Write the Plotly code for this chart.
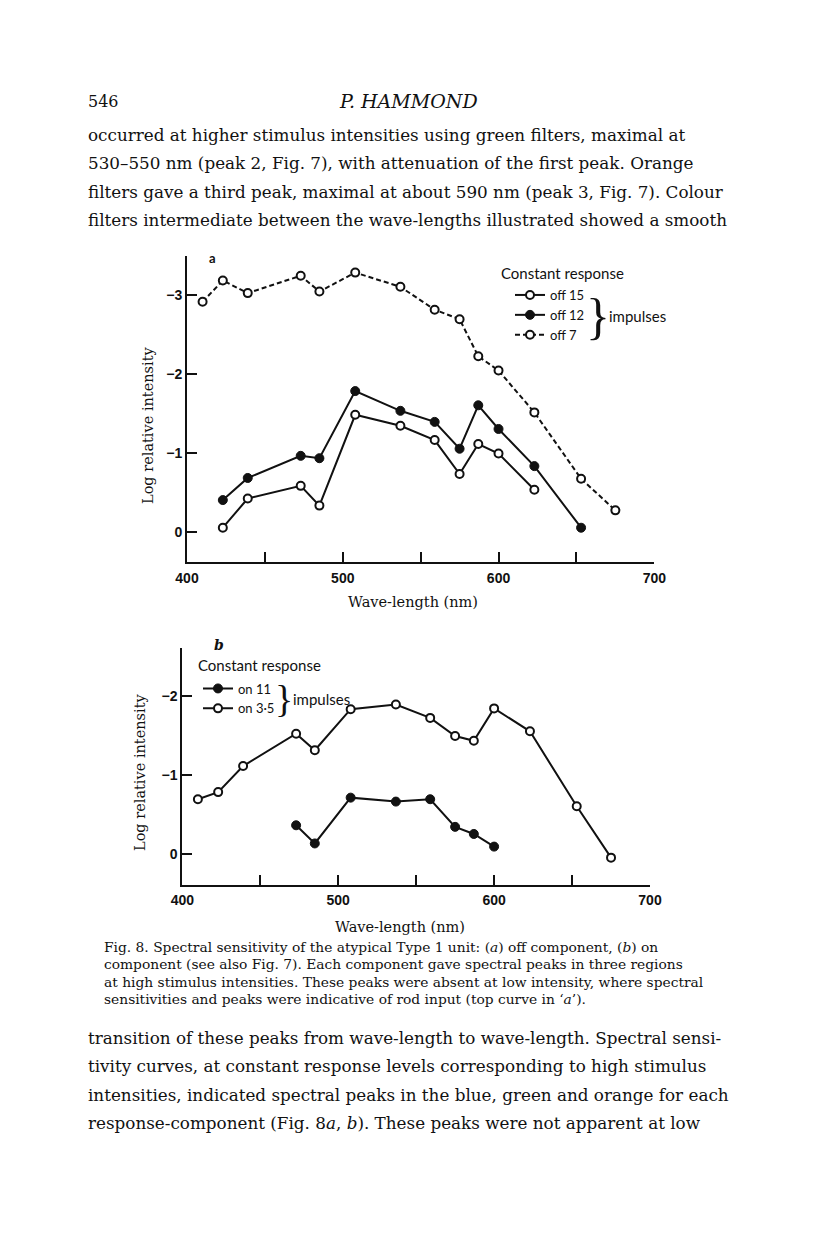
import plotly.graph_objects as go

W, H = 816, 1249
OFF = 8  # the page body adds an 8 px margin around the figure


def px(x):
    return (x - OFF) / W


def py(y):
    return 1 - (y - OFF) / H


# ---------------- data ----------------
# Fig. 8a  off component
wl_a_off15 = [423, 439, 473, 485, 508, 537, 559, 575, 587, 600, 623]
val_a_off15 = [-0.05, -0.42, -0.58, -0.33, -1.48, -1.34, -1.16, -0.73, -1.11, -0.99, -0.53]

wl_a_off12 = [423, 439, 473, 485, 508, 537, 559, 575, 587, 600, 623, 653]
val_a_off12 = [-0.40, -0.68, -0.96, -0.93, -1.78, -1.53, -1.39, -1.05, -1.60, -1.30, -0.83, -0.05]

wl_a_off7 = [410, 423, 439, 473, 485, 508, 537, 559, 575, 587, 600, 623, 653, 675]
val_a_off7 = [-2.91, -3.18, -3.02, -3.24, -3.04, -3.28, -3.10, -2.81, -2.69, -2.22, -2.04, -1.51, -0.67, -0.27]

# Fig. 8b  on component
wl_b_on11 = [473, 485, 508, 537, 559, 575, 587, 600]
val_b_on11 = [-0.36, -0.13, -0.71, -0.66, -0.69, -0.34, -0.25, -0.09]

wl_b_on35 = [410, 423, 439, 473, 485, 508, 537, 559, 575, 587, 600, 623, 653, 675]
val_b_on35 = [-0.69, -0.78, -1.11, -1.52, -1.31, -1.83, -1.89, -1.72, -1.49, -1.43, -1.84, -1.55, -0.60, 0.05]

x_tickvals = [400, 450, 500, 550, 600, 650, 700]
x_ticktext = ["400", "", "500", "", "600", "", "700"]
ya_tickvals = [0, -1, -2, -3]
ya_ticktext = ["0", "\u22121", "\u22122", "\u22123"]
yb_tickvals = [0, -1, -2]
yb_ticktext = ["0", "\u22121", "\u22122"]

text_top = [
    "occurred at higher stimulus intensities using green filters, maximal at",
    "530\u2013550 nm (peak 2, Fig. 7), with attenuation of the first peak. Orange",
    "filters gave a third peak, maximal at about 590 nm (peak 3, Fig. 7). Colour",
    "filters intermediate between the wave-lengths illustrated showed a smooth",
]
caption = [
    "Fig. 8. Spectral sensitivity of the atypical Type 1 unit: (<i>a</i>) off component, (<i>b</i>) on",
    "component (see also Fig. 7). Each component gave spectral peaks in three regions",
    "at high stimulus intensities. These peaks were absent at low intensity, where spectral",
    "sensitivities and peaks were indicative of rod input (top curve in \u2018<i>a</i>\u2019).",
]
text_bottom = [
    "transition of these peaks from wave-length to wave-length. Spectral sensi-",
    "tivity curves, at constant response levels corresponding to high stimulus",
    "intensities, indicated spectral peaks in the blue, green and orange for each",
    "response-component (Fig. 8<i>a</i>, <i>b</i>). These peaks were not apparent at low",
]

# ---------------- styles ----------------
SERIF = "DejaVu Serif"
SANS = "Lato"
BLACK = "#111111"
open_marker = dict(symbol="circle", size=8, color="white", line=dict(color=BLACK, width=2))
filled_marker = dict(symbol="circle", size=9, color=BLACK, line=dict(color=BLACK, width=1))

fig = go.Figure()

fig.add_trace(go.Scatter(x=wl_a_off15, y=val_a_off15, mode="lines+markers", name="off 15",
                         line=dict(color=BLACK, width=2), marker=open_marker,
                         xaxis="x", yaxis="y", legend="legend"))
fig.add_trace(go.Scatter(x=wl_a_off12, y=val_a_off12, mode="lines+markers", name="off 12",
                         line=dict(color=BLACK, width=2), marker=filled_marker,
                         xaxis="x", yaxis="y", legend="legend"))
fig.add_trace(go.Scatter(x=wl_a_off7, y=val_a_off7, mode="lines+markers", name="off 7",
                         line=dict(color=BLACK, width=2, dash="5px,3px"), marker=open_marker,
                         xaxis="x", yaxis="y", legend="legend"))

fig.add_trace(go.Scatter(x=wl_b_on11, y=val_b_on11, mode="lines+markers", name="on 11",
                         line=dict(color=BLACK, width=2), marker=filled_marker,
                         xaxis="x2", yaxis="y2", legend="legend2"))
fig.add_trace(go.Scatter(x=wl_b_on35, y=val_b_on35, mode="lines+markers", name="on 3\u00b75",
                         line=dict(color=BLACK, width=2), marker=open_marker,
                         xaxis="x2", yaxis="y2", legend="legend2"))

axis_common = dict(showline=True, linewidth=2, linecolor=BLACK, showgrid=False, zeroline=False,
                   ticks="inside", ticklen=10, tickwidth=2, tickcolor=BLACK, automargin=False,
                   tickfont=dict(family="Liberation Sans", size=14, color=BLACK, weight="bold"))

fig.update_layout(
    width=W, height=H,
    margin=dict(l=0, r=0, t=0, b=0, pad=0, autoexpand=False),
    paper_bgcolor="white", plot_bgcolor="white",
    xaxis=dict(domain=[px(187), px(654.3)], range=[400, 700], anchor="y",
               tickvals=x_tickvals, ticktext=x_ticktext, ticklabelstandoff=2, **axis_common),
    yaxis=dict(domain=[py(562), py(256)], range=[0.384, -3.49], anchor="x",
               tickvals=ya_tickvals, ticktext=ya_ticktext, **axis_common),
    xaxis2=dict(domain=[px(182.3), px(650)], range=[400, 700], anchor="y2",
                tickvals=x_tickvals, ticktext=x_ticktext, ticklabelstandoff=2, **axis_common),
    yaxis2=dict(domain=[py(884.5), py(648)], range=[0.39, -2.605], anchor="x2",
                tickvals=yb_tickvals, ticktext=yb_ticktext, **axis_common),
    legend=dict(x=px(510), y=py(280), xanchor="left", yanchor="top",
                bgcolor="rgba(0,0,0,0)", borderwidth=0, traceorder="normal",
                font=dict(family=SANS, size=13, color=BLACK)),
    legend2=dict(x=px(198), y=py(673.5), xanchor="left", yanchor="top",
                 bgcolor="rgba(0,0,0,0)", borderwidth=0, traceorder="normal",
                 font=dict(family=SANS, size=13, color=BLACK)),
)

ann = []


def add_text(text, x, y, size, family=SERIF, xanchor="left", angle=0, **font_kw):
    ann.append(dict(text=text, x=px(x), y=py(y), xref="paper", yref="paper",
                    xanchor=xanchor, yanchor="middle", showarrow=False, textangle=angle,
                    font=dict(family=family, size=size, color=BLACK, **font_kw)))


# page header
add_text("546", 86, 101, 16)
add_text("<i>P. HAMMOND</i>", 408, 101, 19, xanchor="center")

# body text
for i, line in enumerate(text_top):
    add_text(line, 86, 135 + i * 28.3, 16.8)

# chart a labels
add_text("a", 207, 258, 13, family=SANS, weight="bold")
add_text("Constant response", 499, 273, 15, family=SANS)
add_text("}", 598, 316, 50, family="Liberation Serif", xanchor="center")
add_text("impulses", 607, 316, 15, family=SANS)
add_text("Log relative intensity", 148, 425, 14.5, angle=-90, xanchor="center")
add_text("Wave-length (nm)", 413, 602, 14.5, xanchor="center")

# chart b labels
add_text("<i>b</i>", 212, 645, 14, weight="bold")
add_text("Constant response", 196, 665, 15, family=SANS)
add_text("}", 284, 699, 38, family="Liberation Serif", xanchor="center")
add_text("impulses", 291, 699, 15, family=SANS)
add_text("Log relative intensity", 140, 772, 14.5, angle=-90, xanchor="center")
add_text("Wave-length (nm)", 400, 927, 14.5, xanchor="center")

# caption
for i, line in enumerate(caption):
    add_text(line, 102, 947 + i * 17.4, 13.8)

# bottom body text
for i, line in enumerate(text_bottom):
    add_text(line, 86, 1038 + i * 28.3, 16.8)

fig.update_layout(annotations=ann)

fig.write_html("out.html")
